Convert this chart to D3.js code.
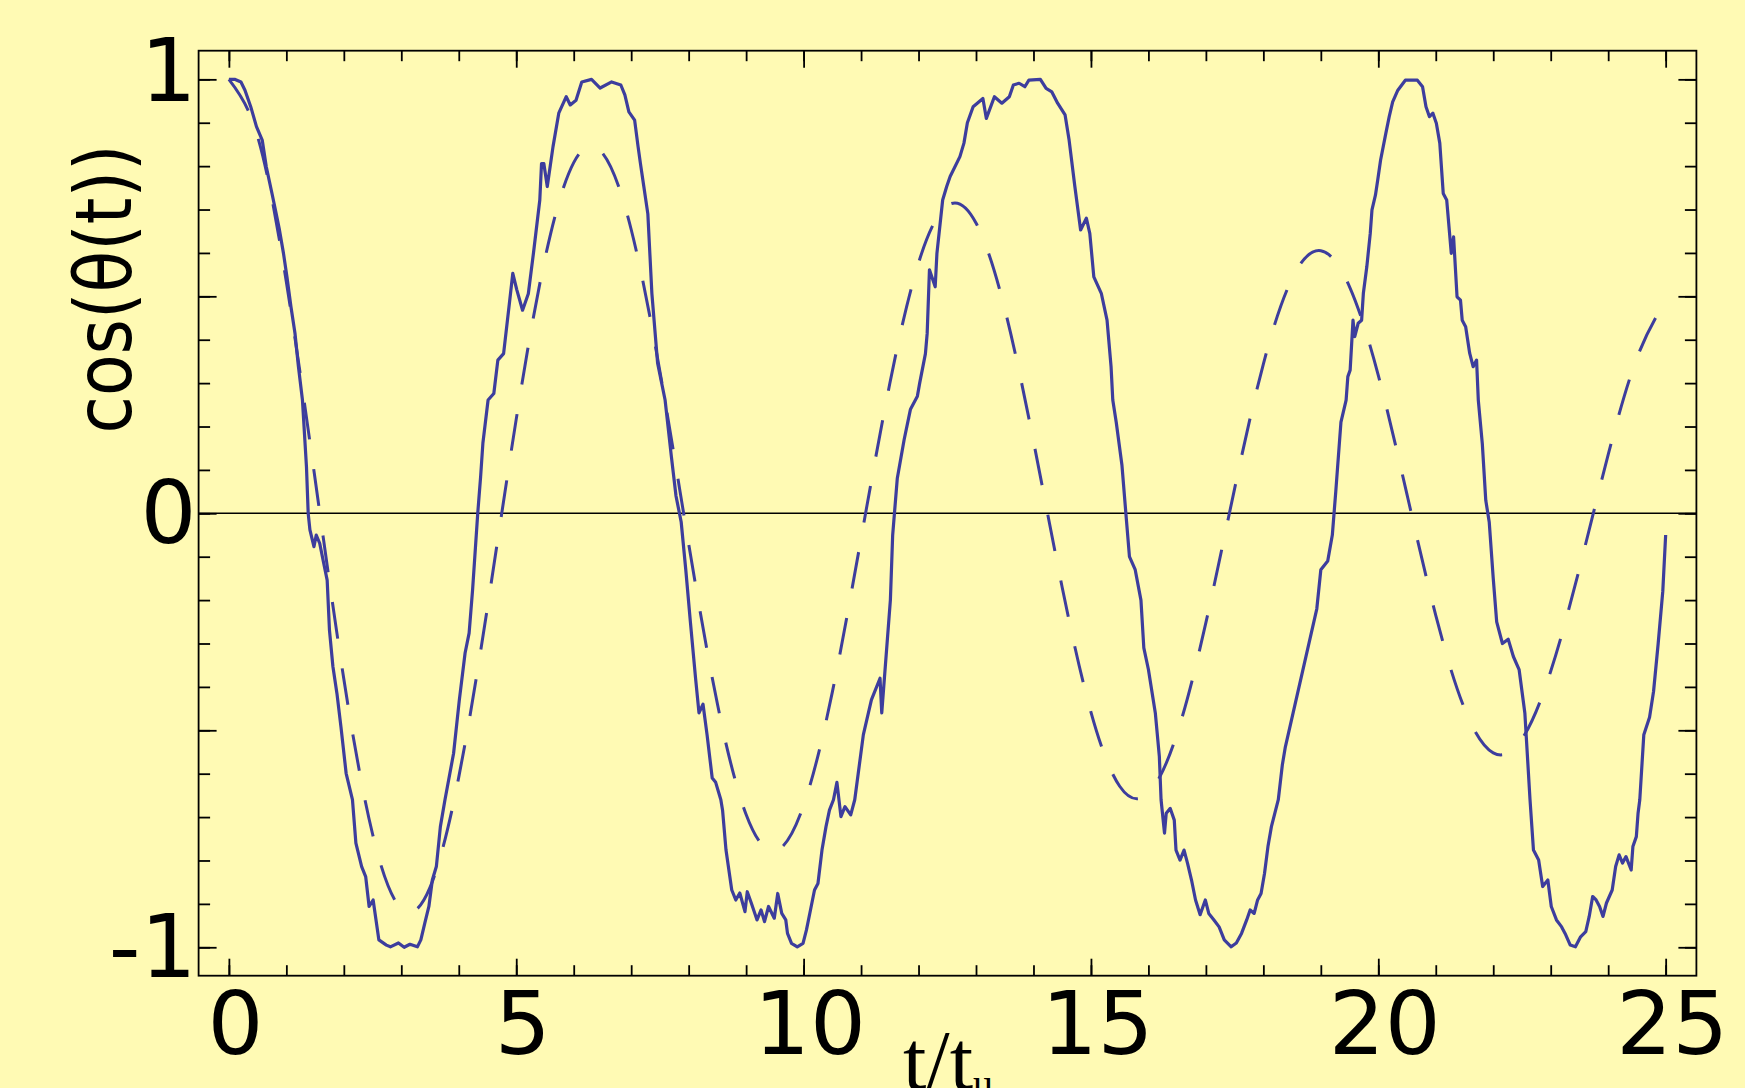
<!DOCTYPE html>
<html>
<head>
<meta charset="utf-8" />
<title>cos(theta(t))</title>
<script src="https://d3js.org/d3.v7.min.js"></script>
<style>
body { margin: 0; background-color: #fffab4; }
svg { display: block; }
.axis path { stroke: none; }
.axis line { stroke: black; stroke-width: 1.8px; }
.axis text { font-family: "DejaVu Sans", sans-serif; font-size: 88px; fill: black; }
#frame { fill: none; stroke: black; stroke-width: 1.8px; }
#zero { stroke: black; stroke-width: 1.4px; }
.solid { fill: none; stroke: #3d3d9d; stroke-width: 3.2px; stroke-linejoin: round; }
.dashed { fill: none; stroke: #3d3d9d; stroke-width: 3px; stroke-dasharray: 37,30; }
</style>
</head>
<body>
<div id="chart"></div>
<script>
// tick marks
var xMajor = [0, 5, 10, 15, 20, 25];
var xMinor = [0,1,2,3,4,5,6,7,8,9,10,11,12,13,14,15,16,17,18,19,20,21,22,23,24,25];
var yMajor = [-1, -0.5, 0, 0.5, 1];
var yMinor = [-1,-0.9,-0.8,-0.7,-0.6,-0.5,-0.4,-0.3,-0.2,-0.1,0,0.1,0.2,0.3,0.4,0.5,0.6,0.7,0.8,0.9,1];
var yLabelled = [-1, 0, 1];

// dashed curve, read every 0.5 t/tu
var dashT = [0,0.5,1,1.5,2,2.5,3,3.5,4,4.5,5,5.5,6,6.5,7,7.5,8,8.5,9,9.5,10,10.5,11,11.5,12,12.5,
             13,13.5,14,14.5,15,15.5,16,16.5,17,17.5,18,18.5,19,19.5,20,20.5,21,21.5,22,22.5,23,23.5,24,24.5,25];
var dashV = [1.000,0.868,0.533,0.079,-0.382,-0.739,-0.911,-0.862,-0.608,-0.216,0.217,0.587,0.808,0.830,0.654,0.327,
             -0.070,-0.439,-0.694,-0.778,-0.673,-0.412,-0.058,0.299,0.577,0.709,0.669,0.471,0.166,-0.171,-0.458,-0.629,
             -0.645,-0.507,-0.252,0.057,0.344,0.541,0.605,0.522,0.318,0.043,-0.235,-0.450,-0.552,-0.520,-0.364,-0.127,
             0.135,0.358,0.490];

// noisy solid curve, [t/tu, cos(theta)]
var solidPts = [
  [0,1.00],[0.10,1.00],[0.21,0.994],[0.28,0.975],[0.38,0.937],[0.48,0.891],[0.58,0.860],[0.65,0.799],[0.75,0.737],
  [0.81,0.699],[0.88,0.653],[0.95,0.599],[1.01,0.545],[1.08,0.476],[1.15,0.415],[1.21,0.338],[1.28,0.261],[1.35,0.107],
  [1.38,0.00],[1.41,-0.038],[1.48,-0.077],[1.52,-0.05],[1.58,-0.069],[1.65,-0.115],[1.71,-0.154],[1.75,-0.269],
  [1.81,-0.353],[1.88,-0.415],[1.95,-0.492],[2.04,-0.599],[2.15,-0.66],[2.21,-0.76],[2.31,-0.814],[2.38,-0.837],
  [2.44,-0.906],[2.51,-0.891],[2.61,-0.983],[2.74,-0.995],[2.81,-0.999],[2.95,-0.99],[3.05,-1.0],[3.15,-0.993],
  [3.28,-0.999],[3.34,-0.983],[3.41,-0.944],[3.48,-0.906],[3.54,-0.845],[3.61,-0.814],[3.68,-0.722],[3.76,-0.66],
  [3.91,-0.553],[4.01,-0.43],[4.11,-0.322],[4.18,-0.276],[4.24,-0.177],[4.33,0.00],[4.38,0.084],[4.42,0.162],
  [4.51,0.261],[4.61,0.276],[4.68,0.353],[4.78,0.368],[4.88,0.483],[4.94,0.553],[5.01,0.515],[5.11,0.468],
  [5.21,0.506],[5.30,0.60],[5.41,0.722],[5.44,0.806],[5.48,0.806],[5.54,0.753],[5.64,0.845],[5.74,0.922],
  [5.87,0.960],[5.94,0.941],[6.04,0.952],[6.14,0.994],[6.31,1.0],[6.46,0.98],[6.66,0.994],[6.82,0.987],
  [6.89,0.964],[6.96,0.925],[7.06,0.906],[7.12,0.845],[7.16,0.807],[7.22,0.753],[7.29,0.69],[7.36,0.507],
  [7.46,0.346],[7.59,0.261],[7.70,0.13],[7.78,0.04],[7.87,-0.02],[7.95,-0.13],[8.03,-0.25],[8.12,-0.38],
  [8.18,-0.46],[8.25,-0.44],[8.32,-0.51],[8.41,-0.61],[8.47,-0.62],[8.56,-0.66],[8.59,-0.684],[8.65,-0.776],
  [8.75,-0.868],[8.82,-0.891],[8.89,-0.875],[8.98,-0.918],[9.02,-0.872],[9.09,-0.898],[9.19,-0.937],[9.26,-0.914],
  [9.32,-0.941],[9.39,-0.906],[9.49,-0.933],[9.55,-0.876],[9.62,-0.922],[9.69,-0.937],[9.72,-0.968],[9.79,-0.991],
  [9.89,-0.999],[9.99,-0.991],[10.05,-0.96],[10.12,-0.914],[10.19,-0.868],[10.25,-0.853],[10.32,-0.776],
  [10.39,-0.722],[10.45,-0.684],[10.52,-0.66],[10.58,-0.62],[10.65,-0.699],[10.72,-0.676],[10.82,-0.695],
  [10.89,-0.66],[10.95,-0.60],[11.04,-0.51],[11.18,-0.43],[11.33,-0.38],[11.36,-0.46],[11.51,-0.20],[11.55,-0.05],
  [11.63,0.08],[11.75,0.17],[11.86,0.24],[11.98,0.27],[12.02,0.30],[12.12,0.368],[12.15,0.414],[12.19,0.561],
  [12.29,0.522],[12.32,0.599],[12.42,0.722],[12.49,0.753],[12.55,0.776],[12.72,0.822],[12.79,0.853],[12.85,0.90],
  [12.95,0.937],[13.12,0.956],[13.18,0.910],[13.32,0.960],[13.45,0.945],[13.58,0.960],[13.65,0.987],[13.75,0.991],
  [13.85,0.983],[13.92,0.998],[14.12,1.0],[14.22,0.979],[14.32,0.971],[14.42,0.945],[14.55,0.918],[14.62,0.860],
  [14.72,0.753],[14.82,0.653],[14.92,0.680],[14.98,0.645],[15.05,0.545],[15.18,0.507],[15.28,0.445],[15.35,0.338],
  [15.38,0.261],[15.44,0.21],[15.54,0.11],[15.62,-0.02],[15.67,-0.10],[15.77,-0.13],[15.87,-0.20],[15.92,-0.31],
  [16.00,-0.36],[16.12,-0.46],[16.19,-0.56],[16.22,-0.66],[16.28,-0.737],[16.31,-0.691],[16.38,-0.68],
  [16.45,-0.707],[16.48,-0.776],[16.55,-0.799],[16.62,-0.776],[16.68,-0.806],[16.75,-0.845],[16.82,-0.891],
  [16.90,-0.925],[16.99,-0.891],[17.05,-0.922],[17.14,-0.937],[17.23,-0.953],[17.32,-0.983],[17.44,-0.999],
  [17.53,-0.99],[17.62,-0.968],[17.71,-0.937],[17.77,-0.914],[17.84,-0.922],[17.90,-0.891],[17.96,-0.876],
  [18.02,-0.83],[18.08,-0.768],[18.14,-0.722],[18.20,-0.691],[18.26,-0.66],[18.33,-0.58],[18.38,-0.54],
  [18.93,-0.22],[19.00,-0.13],[19.12,-0.11],[19.20,-0.05],[19.26,0.05],[19.35,0.21],[19.44,0.261],[19.47,0.315],
  [19.51,0.33],[19.56,0.445],[19.59,0.407],[19.65,0.438],[19.71,0.445],[19.74,0.507],[19.80,0.568],[19.86,0.645],
  [19.89,0.699],[19.95,0.733],[19.99,0.768],[20.04,0.814],[20.13,0.875],[20.19,0.914],[20.25,0.948],[20.34,0.975],
  [20.47,0.998],[20.68,0.998],[20.77,0.983],[20.83,0.937],[20.89,0.914],[20.95,0.922],[21.01,0.899],[21.07,0.853],
  [21.13,0.737],[21.19,0.722],[21.24,0.645],[21.27,0.599],[21.31,0.637],[21.37,0.499],[21.43,0.491],[21.46,0.445],
  [21.52,0.43],[21.59,0.369],[21.65,0.338],[21.71,0.353],[21.74,0.261],[21.81,0.16],[21.87,0.03],[21.93,-0.02],
  [22.00,-0.15],[22.06,-0.25],[22.16,-0.30],[22.26,-0.29],[22.35,-0.33],[22.45,-0.36],[22.55,-0.46],[22.64,-0.66],
  [22.70,-0.776],[22.79,-0.799],[22.86,-0.86],[22.95,-0.845],[23.01,-0.906],[23.10,-0.937],[23.19,-0.953],
  [23.25,-0.968],[23.34,-0.995],[23.43,-0.999],[23.52,-0.976],[23.61,-0.964],[23.67,-0.929],[23.73,-0.883],
  [23.79,-0.891],[23.85,-0.906],[23.91,-0.929],[23.97,-0.898],[24.07,-0.868],[24.13,-0.814],[24.19,-0.787],
  [24.25,-0.806],[24.31,-0.791],[24.40,-0.822],[24.43,-0.768],[24.49,-0.745],[24.52,-0.691],[24.55,-0.66],
  [24.62,-0.51],[24.72,-0.47],[24.79,-0.41],[24.87,-0.30],[24.95,-0.18],[25.00,-0.05]
];

var width = 1745, height = 1088;
var plotLeft = 198.6, plotRight = 1696.4, plotTop = 50.7, plotBottom = 975.7;

var svg = d3.select("#chart").append("svg")
    .attr("width", width)
    .attr("height", height);

svg.append("rect").attr("width", width).attr("height", height).attr("fill", "#fffab4");

var x = d3.scaleLinear().domain([-0.527, 25.535]).range([plotLeft, plotRight]);
var y = d3.scaleLinear().domain([-1.0655, 1.066]).range([plotBottom, plotTop]);

// zero line
svg.append("line").attr("id", "zero")
    .attr("x1", plotLeft).attr("x2", plotRight)
    .attr("y1", y(0)).attr("y2", y(0));

// curves
var line = d3.line().x(function(d) { return x(d[0]); }).y(function(d) { return y(d[1]); });

svg.append("path").attr("class", "dashed")
    .datum(d3.zip(dashT, dashV))
    .attr("d", line.curve(d3.curveNatural));

svg.append("path").attr("class", "solid")
    .datum(solidPts)
    .attr("d", line.curve(d3.curveLinear));

// axes, ticks point inwards
function noLabel() { return ""; }

svg.append("g").attr("class", "axis").attr("transform", "translate(0," + plotBottom + ")")
    .call(d3.axisBottom(x).tickValues(xMinor).tickSize(-10.5).tickFormat(noLabel));
svg.append("g").attr("class", "axis").attr("transform", "translate(0," + plotBottom + ")")
    .call(d3.axisBottom(x).tickValues(xMajor).tickSize(-17).tickPadding(16).tickFormat(d3.format("d")))
    .selectAll("text").attr("dx", 6);

svg.append("g").attr("class", "axis").attr("transform", "translate(0," + plotTop + ")")
    .call(d3.axisTop(x).tickValues(xMinor).tickSize(-10.5).tickFormat(noLabel));
svg.append("g").attr("class", "axis").attr("transform", "translate(0," + plotTop + ")")
    .call(d3.axisTop(x).tickValues(xMajor).tickSize(-17).tickFormat(noLabel));

svg.append("g").attr("class", "axis").attr("transform", "translate(" + plotLeft + ",0)")
    .call(d3.axisLeft(y).tickValues(yMinor).tickSize(-11.5).tickFormat(noLabel));
svg.append("g").attr("class", "axis").attr("transform", "translate(" + plotLeft + ",0)")
    .call(d3.axisLeft(y).tickValues(yMajor).tickSize(-18).tickPadding(2)
        .tickFormat(function(d) { return yLabelled.indexOf(d) >= 0 ? String(d) : ""; }))
    .selectAll("text").attr("dy", function(d) { return d === 1 ? "0.24em" : "0.33em"; });

svg.append("g").attr("class", "axis").attr("transform", "translate(" + plotRight + ",0)")
    .call(d3.axisRight(y).tickValues(yMinor).tickSize(-11.5).tickFormat(noLabel));
svg.append("g").attr("class", "axis").attr("transform", "translate(" + plotRight + ",0)")
    .call(d3.axisRight(y).tickValues(yMajor).tickSize(-18).tickFormat(noLabel));

// frame
svg.append("rect").attr("id", "frame")
    .attr("x", plotLeft).attr("y", plotTop)
    .attr("width", plotRight - plotLeft).attr("height", plotBottom - plotTop);

// axis titles
svg.append("text")
    .attr("transform", "translate(131,289) rotate(-90)")
    .attr("text-anchor", "middle")
    .attr("textLength", 289)
    .attr("lengthAdjust", "spacingAndGlyphs")
    .style("font-family", "DejaVu Sans, sans-serif")
    .style("font-size", "78px")
    .text("cos(θ(t))");

var xt = svg.append("text")
    .attr("x", 903).attr("y", 1089)
    .style("font-family", "Liberation Serif, serif")
    .style("font-size", "84px");
xt.append("tspan").text("t/t");
xt.append("tspan").attr("dy", 8).style("font-size", "40px").text("u");
</script>
</body>
</html>
